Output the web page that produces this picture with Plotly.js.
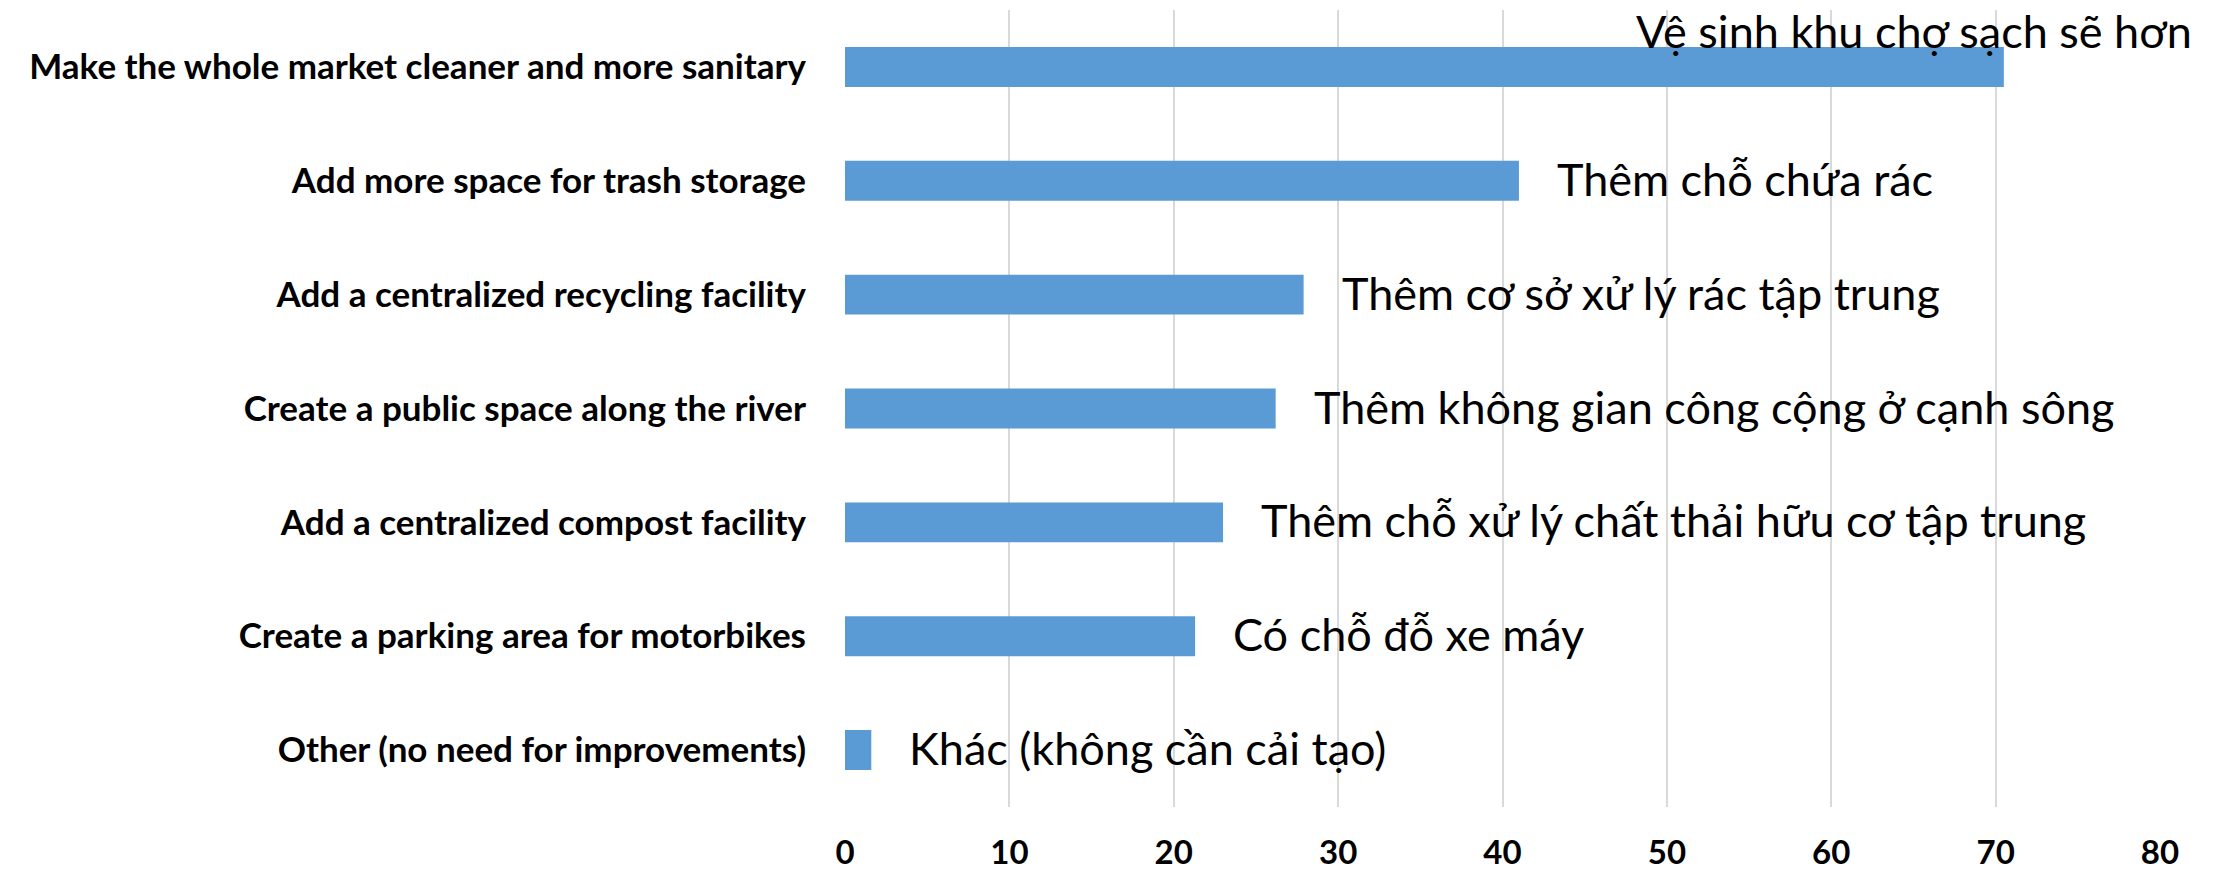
<!DOCTYPE html>
<html>
<head>
<meta charset="utf-8">
<script src="https://cdn.plot.ly/plotly-3.0.1.min.js"></script>
<style>
  html, body { margin: 0; padding: 0; background: #ffffff; }
  #chart { width: 2221px; height: 871px; }
</style>
</head>
<body>
<div id="chart"></div>
<script>
// Categories, top to bottom
const categories = [
  "Make the whole market cleaner and more sanitary",
  "Add more space for trash storage",
  "Add a centralized recycling facility",
  "Create a public space along the river",
  "Add a centralized compost facility",
  "Create a parking area for motorbikes",
  "Other (no need for improvements)"
];
// Share of respondents (%)
const values = [70.5, 41.0, 27.9, 26.2, 23.0, 21.3, 1.6];
// Vietnamese labels shown next to each bar
const vietLabels = [
  "Vệ sinh khu chợ sạch sẽ hơn",
  "Thêm chỗ chứa rác",
  "Thêm cơ sở xử lý rác tập trung",
  "Thêm không gian công cộng ở cạnh sông",
  "Thêm chỗ xử lý chất thải hữu cơ tập trung",
  "Có chỗ đỗ xe máy",
  "Khác (không cần cải tạo)"
];
const xTicks = [0, 10, 20, 30, 40, 50, 60, 70, 80];

const FONT_B = "Lato, 'Open Sans', 'DejaVu Sans', sans-serif";

const trace = {
  type: 'bar',
  orientation: 'h',
  x: values,
  y: categories,
  marker: { color: '#5b9bd5', line: { width: 0 } },
  hoverinfo: 'x+y'
};

const annotations = values.map((v, i) => {
  const base = {
    x: v, y: categories[i], xref: 'x', yref: 'y',
    text: vietLabels[i], showarrow: false,
    font: { family: FONT_B, size: 45, color: '#000000' },
    yanchor: 'middle'
  };
  if (i === 0) {
    return Object.assign(base, { xanchor: 'right', xshift: 190, yshift: 36 });
  }
  return Object.assign(base, { xanchor: 'left', xshift: 36, yshift: 2 });
});

const layout = {
  width: 2221,
  height: 871,
  margin: { l: 845, r: 61, t: 10, b: 64 },
  paper_bgcolor: '#ffffff',
  plot_bgcolor: '#ffffff',
  showlegend: false,
  bargap: 0.649,
  xaxis: {
    range: [0, 80],
    tickvals: xTicks,
    ticktext: xTicks.map(String),
    showgrid: true,
    gridcolor: '#d9d9d9',
    gridwidth: 2,
    zeroline: false,
    showline: false,
    ticks: '',
    ticklabelstandoff: 23,
    tickfont: { family: FONT_B, size: 33, color: '#000000', weight: 'bold' },
    fixedrange: true
  },
  yaxis: {
    type: 'category',
    autorange: 'reversed',
    showgrid: false,
    zeroline: false,
    showline: false,
    ticks: '',
    ticklabelstandoff: 38,
    tickfont: { family: FONT_B, size: 35, color: '#000000', weight: 'bold' },
    fixedrange: true
  },
  annotations: annotations
};

Plotly.newPlot('chart', [trace], layout, { displayModeBar: false, staticPlot: true });
</script>
</body>
</html>
